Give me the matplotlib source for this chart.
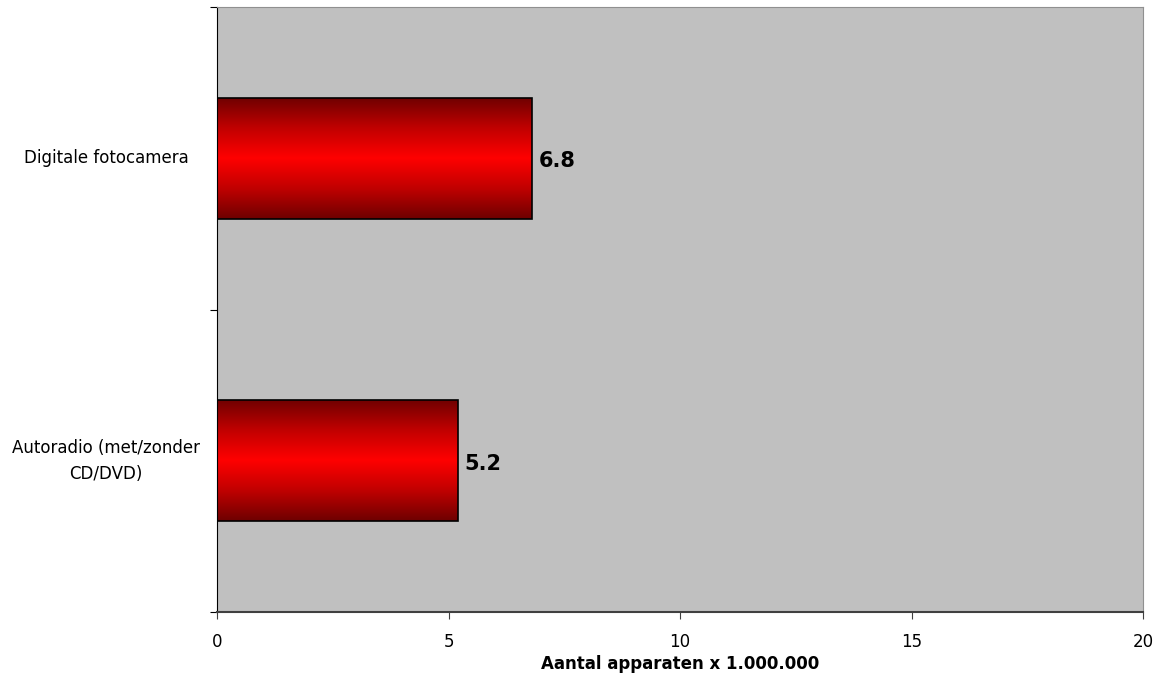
import numpy as np
import matplotlib
matplotlib.use("Agg")
import matplotlib.pyplot as plt
from matplotlib.colors import LinearSegmentedColormap

# data
categories = ["Autoradio (met/zonder\nCD/DVD)", "Digitale fotocamera"]
values = [5.2, 6.8]
xticks = [0, 5, 10, 15, 20]

plt.rcParams['font.family'] = ['DejaVu Sans']

fig = plt.figure(figsize=(11.66, 6.75), dpi=100)
ax = fig.add_axes([0.1861, 0.0933, 0.7942, 0.8963])
ax.set_facecolor('#C0C0C0')

ypos = np.arange(len(categories))
bars = ax.barh(ypos, values, height=0.4, color='none', edgecolor='black', linewidth=1.2, zorder=3)

# vertical gradient fill, dark red at edges -> bright red in the middle
cmap = LinearSegmentedColormap.from_list('redgrad', ['#6e0000', '#c00000', '#ff0000', '#c00000', '#6e0000'])
grad = np.linspace(0, 1, 256).reshape(-1, 1)
for b in bars:
    x0, y0 = b.get_x(), b.get_y()
    w, h = b.get_width(), b.get_height()
    im = ax.imshow(grad, cmap=cmap, aspect='auto', extent=(x0, x0 + w, y0, y0 + h),
                   origin='lower', zorder=2, interpolation='bilinear')
    im.set_clip_path(b)

for y, v in zip(ypos, values):
    ax.text(v + 0.15, y - 0.01, f"{v:.1f}", va='center', ha='left', fontsize=15, fontweight='bold')

ax.set_xlim(0, 20)
ax.set_ylim(-0.5, len(categories) - 0.5)
ax.set_xticks(xticks)
ax.set_xticklabels([str(t) for t in xticks], fontsize=12)
ax.tick_params(axis='x', length=5, pad=10, color='#404040')

# tick marks at category boundaries, labels at category centres
ax.set_yticks(np.arange(-0.5, len(categories), 1.0))
ax.set_yticklabels([])
ax.set_yticks(ypos, minor=True)
ax.set_yticklabels(categories, minor=True, fontsize=12, ha='center', va='center',
                   multialignment='center', linespacing=1.55)
ax.tick_params(axis='y', which='major', length=5)
ax.tick_params(axis='y', which='minor', length=0, pad=80)

ax.spines['left'].set_color('black')
ax.spines['bottom'].set_color('#404040')
ax.spines['bottom'].set_linewidth(1.5)
ax.spines['top'].set_color('#909090')
ax.spines['right'].set_color('#909090')

ax.set_xlabel("Aantal apparaten x 1.000.000", fontsize=12, fontweight='bold', labelpad=3)

fig.savefig("out.png", dpi=100)
